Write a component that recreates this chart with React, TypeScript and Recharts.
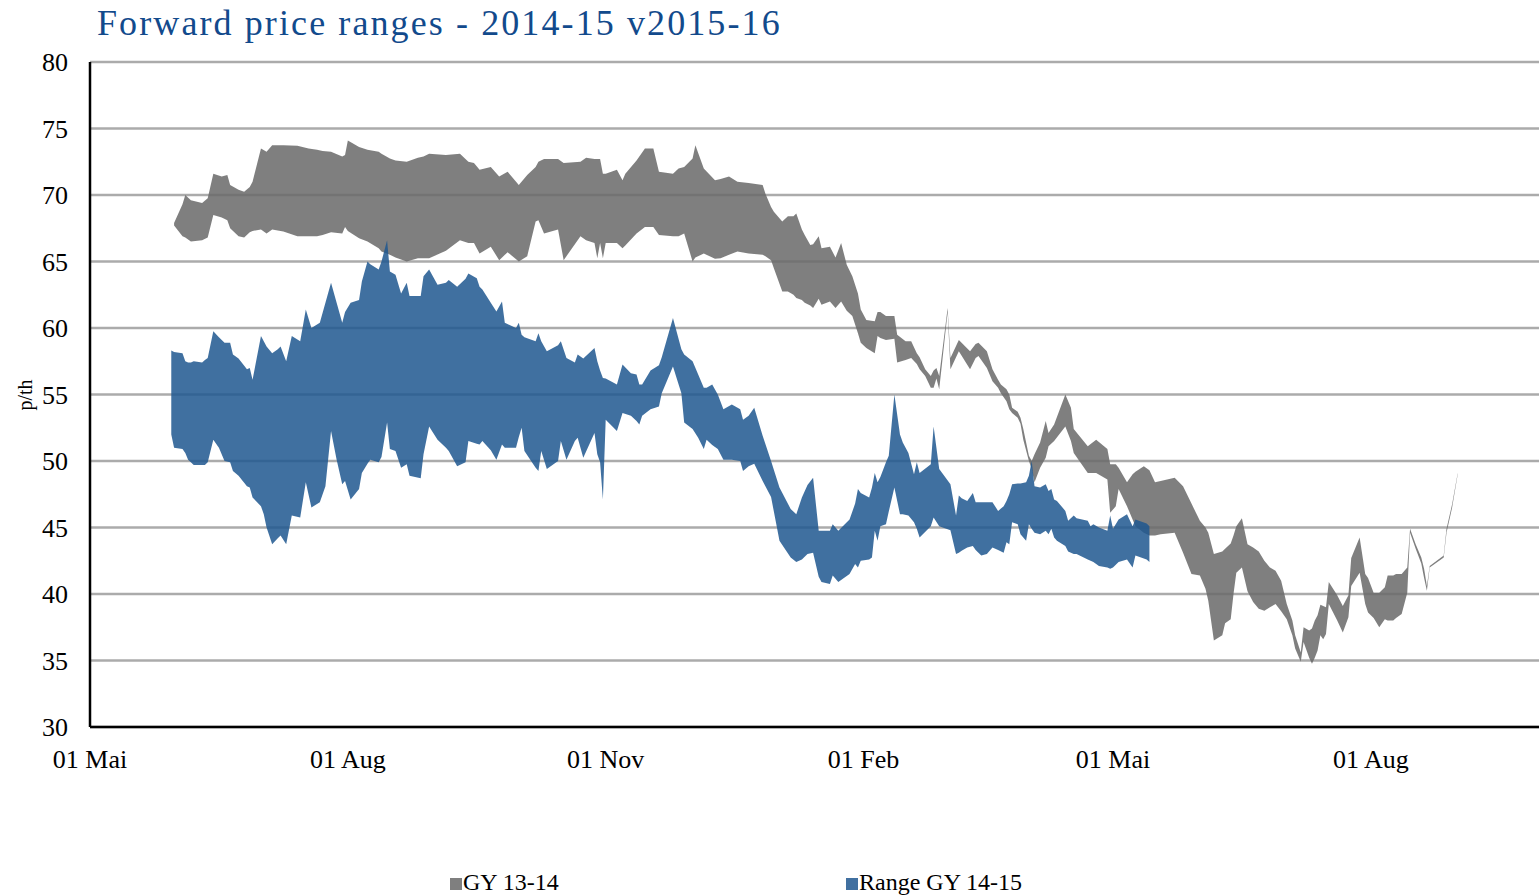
import { ComposedChart, Area, XAxis, YAxis, CartesianGrid, Label } from 'recharts';

// x values are days counted from 01 May 2014
const tickDays = [0, 92, 184, 276, 365, 457];
const tickLabels = ['01 Mai', '01 Aug', '01 Nov', '01 Feb', '01 Mai', '01 Aug'];
const yTicks = [30, 35, 40, 45, 50, 55, 60, 65, 70, 75, 80];

// GY 13-14 (grey band)
const gyDays = [
  30, 33, 34, 36, 40, 42, 44, 47, 49, 50, 53, 55, 57, 58, 61, 63, 65, 69, 74, 78,
  81, 83, 86, 90, 91, 92, 96, 99, 103, 104, 107, 109, 113, 117, 119, 121, 127, 132, 135, 137,
  139, 143, 146, 149, 153, 156, 159, 160, 162, 167, 169, 175, 177, 180, 181, 182, 183, 184, 188, 190,
  191, 195, 198, 201, 203, 208, 210, 212, 215, 216, 219, 223, 225, 228, 231, 235, 240, 241, 243, 244,
  247, 249, 251, 252, 254, 255, 257, 258, 260, 261, 264, 266, 268, 270, 272, 274, 275, 277, 280, 281,
  282, 284, 287, 288, 291, 293, 295, 296, 298, 300, 301, 302, 303, 306, 307, 310, 314, 316, 317, 320,
  322, 324, 325, 327, 328, 329, 331, 332, 333, 335, 336, 337, 339, 341, 342, 344, 348, 350, 351, 356,
  359, 363, 364, 366, 367, 370, 372, 373, 376, 378, 380, 382, 387, 390, 393, 396, 398, 399, 401, 404,
  405, 407, 408, 409, 411, 413, 415, 417, 419, 421, 423, 425, 427, 429, 430, 432, 433, 435, 436, 437,
  438, 439, 440, 441, 442, 445, 447, 449, 450, 453, 455, 456, 458, 460, 462, 463, 465, 466, 468, 470,
  471, 473, 475, 476, 477, 478, 483, 484, 486, 488,
];
const gyLow = [
  67.7, 66.9, 66.8, 66.5, 66.6, 66.8, 68.5, 68.3, 68.1, 67.5, 66.9, 66.8, 67.2, 67.3, 67.4, 67.1, 67.4, 67.25, 66.9, 66.9,
  66.9, 67.0, 67.2, 67.1, 67.6, 67.3, 66.75, 66.5, 66.0, 65.75, 65.5, 65.3, 65.0, 65.25, 65.25, 65.25, 65.8, 66.6, 66.4, 66.4,
  65.6, 66.1, 65.1, 65.7, 65.0, 65.4, 68.0, 68.1, 67.1, 67.4, 65.1, 66.9, 66.6, 66.4, 65.25, 66.4, 65.25, 66.4, 66.4, 66.0,
  66.2, 67.1, 67.6, 67.6, 67.0, 66.9, 66.9, 67.1, 65.0, 65.3, 65.6, 65.2, 65.25, 65.5, 65.75, 65.6, 65.5, 65.4, 65.1, 64.5,
  62.75, 62.75, 62.5, 62.25, 62.1, 61.9, 61.7, 61.5, 62.2, 61.75, 62.0, 61.5, 62.0, 61.3, 60.9, 59.6, 58.9, 58.5, 58.1, 59.4,
  59.25, 59.1, 59.2, 57.4, 57.6, 57.75, 57.3, 56.9, 56.4, 55.5, 55.5, 56.2, 55.4, 61.2, 56.9, 58.25, 56.9, 57.75, 57.9, 57.0,
  56.0, 55.5, 55.1, 54.5, 53.9, 53.6, 53.25, 52.8, 51.6, 50.0, 49.4, 48.4, 49.5, 50.25, 51.1, 51.5, 52.6, 51.5, 50.6, 49.1,
  49.1, 48.6, 46.1, 46.6, 47.9, 46.6, 45.6, 45.1, 44.6, 44.4, 44.4, 44.5, 44.6, 43.1, 41.5, 41.4, 40.4, 39.5, 36.5, 36.9,
  37.8, 38.1, 40.0, 41.6, 42.0, 40.2, 39.4, 38.9, 38.75, 39.0, 39.25, 38.7, 38.1, 36.9, 35.9, 34.9, 36.4, 35.2, 34.75, 35.2,
  35.75, 36.9, 36.6, 37.0, 39.25, 38.0, 37.1, 38.25, 40.6, 41.6, 39.25, 38.6, 38.2, 37.5, 38.1, 38.0, 38.0, 38.2, 38.5, 40.1,
  44.6, 43.4, 42.3, 41.2, 40.25, 42.0, 42.75, 44.6, 46.5, 49.0,
];
const gyHigh = [
  67.9, 69.3, 70.0, 69.6, 69.4, 69.75, 71.6, 71.4, 71.5, 70.75, 70.4, 70.25, 70.6, 71.0, 73.5, 73.25, 73.75, 73.75, 73.7, 73.5,
  73.4, 73.3, 73.25, 72.9, 73.0, 74.1, 73.6, 73.4, 73.25, 73.1, 72.75, 72.6, 72.5, 72.8, 72.9, 73.1, 73.0, 73.1, 72.5, 72.4,
  71.9, 72.1, 71.4, 71.75, 70.75, 71.5, 72.1, 72.5, 72.7, 72.7, 72.4, 72.5, 72.8, 72.7, 72.7, 72.7, 71.6, 71.6, 71.9, 71.1,
  71.6, 72.6, 73.5, 73.5, 71.75, 71.6, 72.0, 72.1, 72.75, 73.75, 72.0, 71.1, 71.2, 71.4, 71.0, 70.9, 70.75, 70.1, 69.1, 68.75,
  68.0, 68.4, 68.4, 68.6, 67.4, 67.0, 66.25, 66.3, 66.9, 66.0, 66.1, 65.3, 66.4, 64.75, 63.9, 62.6, 61.4, 60.6, 60.5, 61.2,
  61.2, 60.9, 60.9, 59.5, 59.0, 59.0, 58.1, 57.8, 56.9, 56.4, 56.8, 57.0, 56.4, 61.5, 57.75, 59.1, 58.25, 58.8, 58.9, 58.25,
  56.9, 56.1, 55.75, 55.4, 55.0, 54.0, 53.7, 53.25, 52.4, 50.4, 50.0, 50.5, 51.4, 53.0, 52.1, 52.75, 55.0, 54.0, 52.4, 51.1,
  51.6, 50.9, 49.75, 49.75, 49.5, 48.4, 49.0, 49.2, 49.6, 49.3, 48.4, 48.5, 48.75, 48.1, 46.8, 45.5, 45.0, 44.6, 43.0, 43.2,
  43.4, 43.8, 44.4, 45.1, 45.7, 43.75, 43.5, 43.2, 42.5, 42.0, 41.75, 41.0, 39.25, 38.0, 36.9, 35.6, 37.5, 37.25, 37.4, 38.0,
  38.4, 39.2, 39.1, 39.0, 40.9, 39.9, 39.1, 39.9, 42.7, 44.25, 41.5, 41.2, 40.1, 40.1, 40.5, 41.4, 41.4, 41.5, 41.5, 42.0,
  44.9, 43.75, 42.75, 41.9, 40.6, 42.1, 42.9, 44.9, 46.75, 49.1,
];

// Range GY 14-15 (blue band)
const rgDays = [
  29, 30, 33, 34, 35, 36, 37, 40, 41, 42, 44, 46, 48, 50, 51, 53, 56, 57, 58, 61,
  62, 63, 65, 67, 68, 70, 72, 75, 77, 79, 82, 84, 86, 88, 90, 91, 93, 96, 97, 99,
  100, 103, 104, 106, 107, 109, 111, 113, 114, 118, 119, 121, 124, 127, 128, 131, 134, 135, 138, 139,
  140, 143, 145, 147, 148, 152, 153, 154, 155, 159, 160, 161, 163, 167, 168, 170, 173, 174, 176, 180,
  181, 182, 183, 184, 188, 190, 193, 195, 196, 197, 200, 203, 204, 208, 211, 212, 215, 217, 219, 220,
  222, 224, 226, 229, 232, 233, 235, 237, 240, 243, 246, 250, 252, 254, 256, 258, 260, 261, 264, 265,
  267, 271, 273, 274, 275, 278, 279, 280, 281, 282, 284, 285, 287, 289, 290, 292, 294, 295, 296, 300,
  301, 303, 307, 309, 310, 311, 313, 315, 316, 318, 320, 322, 324, 326, 327, 328, 329, 331, 332, 334,
  335, 336, 337, 339, 341, 342, 343, 344, 345, 348, 349, 351, 352, 356, 357, 358, 360, 363, 364, 365,
  367, 370, 372, 373, 377, 378,
];
const rgLow = [
  52.0, 51.0, 50.9, 50.6, 50.1, 49.9, 49.7, 49.7, 49.7, 49.9, 51.6, 51.0, 50.0, 49.9, 49.25, 48.9, 48.1, 48.0, 47.25, 46.6,
  46.0, 45.0, 43.75, 44.2, 44.4, 43.75, 45.9, 45.75, 48.4, 46.5, 46.9, 48.1, 52.25, 50.1, 48.25, 48.5, 47.1, 47.9, 49.1, 49.8,
  50.1, 49.9, 50.3, 52.9, 50.9, 50.75, 49.5, 49.75, 48.9, 48.7, 50.5, 52.6, 51.6, 51.0, 50.75, 49.6, 49.9, 51.5, 51.3, 51.25,
  51.5, 50.8, 50.1, 51.25, 51.0, 51.0, 51.8, 52.5, 50.75, 49.5, 49.25, 50.75, 49.4, 50.0, 51.5, 50.1, 51.5, 51.75, 50.25, 52.1,
  50.5, 49.9, 47.1, 53.1, 52.25, 53.6, 53.4, 53.0, 52.75, 53.4, 53.9, 54.1, 55.1, 57.1, 55.1, 52.9, 52.4, 51.75, 50.9, 51.6,
  51.2, 50.9, 50.1, 50.1, 50.0, 49.25, 49.6, 49.8, 48.5, 47.3, 44.0, 42.75, 42.4, 42.6, 43.0, 43.1, 41.3, 40.9, 40.75, 41.4,
  40.9, 41.5, 42.25, 42.0, 42.5, 42.6, 42.75, 44.75, 44.0, 45.1, 45.25, 46.2, 48.0, 46.0, 46.0, 45.9, 45.4, 44.9, 44.25, 45.1,
  45.75, 45.1, 44.8, 43.0, 43.1, 43.25, 43.5, 43.6, 43.3, 42.9, 43.0, 43.5, 43.3, 43.1, 43.9, 43.75, 45.4, 45.25, 44.5, 44.0,
  45.25, 44.9, 44.6, 44.5, 44.75, 44.5, 44.9, 44.25, 44.0, 43.6, 43.2, 43.0, 43.0, 42.6, 42.5, 42.4, 42.1, 42.0, 41.9, 42.0,
  42.4, 42.6, 42.0, 42.9, 42.6, 42.4,
];
const rgHigh = [
  58.3, 58.2, 58.1, 57.5, 57.4, 57.4, 57.5, 57.4, 57.6, 57.75, 59.75, 59.3, 58.9, 58.9, 58.0, 57.7, 56.9, 57.0, 56.1, 59.4,
  59.0, 58.6, 58.1, 58.4, 58.6, 57.5, 59.4, 59.0, 61.4, 60.0, 60.4, 61.9, 63.4, 61.9, 60.4, 61.2, 61.9, 62.1, 63.5, 65.0,
  64.8, 64.4, 65.0, 66.6, 64.25, 64.0, 62.6, 63.4, 62.4, 62.4, 63.9, 64.4, 63.25, 63.4, 63.6, 63.1, 63.7, 64.1, 63.75, 63.1,
  62.9, 61.9, 61.25, 62.0, 60.4, 60.0, 60.4, 59.5, 59.3, 59.0, 59.6, 59.0, 58.25, 58.7, 59.0, 57.75, 57.4, 58.0, 57.7, 58.5,
  57.5, 56.8, 56.25, 56.2, 55.75, 57.25, 56.6, 56.5, 55.75, 55.75, 56.8, 57.2, 57.8, 60.75, 58.4, 58.0, 57.5, 56.5, 55.5, 55.5,
  55.75, 55.0, 53.9, 54.25, 53.9, 53.1, 53.4, 54.0, 51.9, 50.0, 48.0, 46.4, 46.0, 47.25, 48.2, 48.75, 44.75, 44.75, 44.75, 45.25,
  44.75, 45.6, 46.8, 47.9, 47.6, 47.25, 48.0, 49.1, 48.4, 48.8, 49.9, 50.4, 55.0, 52.0, 51.4, 50.6, 49.0, 49.9, 49.1, 49.75,
  52.6, 49.4, 48.25, 45.9, 47.4, 47.2, 47.0, 47.6, 46.9, 46.9, 46.9, 46.9, 46.25, 46.6, 47.0, 47.5, 48.25, 48.3, 48.3, 48.4,
  48.9, 50.0, 48.1, 48.0, 48.25, 47.75, 47.9, 47.1, 47.0, 46.25, 45.5, 45.9, 45.7, 45.5, 45.1, 45.25, 45.0, 44.75, 45.9, 44.9,
  45.6, 46.0, 45.1, 45.6, 45.3, 45.1,
];

const gyData = gyDays.map((day, i) => ({ day, band: [gyLow[i], gyHigh[i]] }));
const rgData = rgDays.map((day, i) => ({ day, band: [rgLow[i], rgHigh[i]] }));

const FONT = '"Liberation Serif", "DejaVu Serif", serif';
const PLOT_TOP = 62;
const PLOT_BOTTOM = 727;

const XTick = ({ x, payload }: any) => {
  const idx = tickDays.indexOf(payload.value);
  return (
    <text x={x} y={PLOT_BOTTOM + 41} textAnchor="middle" fontFamily={FONT} fontSize={26} fill="#000">
      {tickLabels[idx]}
    </text>
  );
};

const YTick = ({ y, payload }: any) => (
  <text x={68} y={y} dy="0.35em" textAnchor="end" fontFamily={FONT} fontSize={26} fill="#000">
    {payload.value}
  </text>
);

export default function App() {
  return (
    <div style={{ position: 'relative', width: 1539, height: 896, overflow: 'hidden', background: '#fff' }}>
      <style>{'body{margin:0}'}</style>
      <div
        style={{
          position: 'absolute',
          left: 97,
          top: 2,
          fontFamily: FONT,
          fontSize: 36,
          color: '#124a8c',
          whiteSpace: 'nowrap',
          letterSpacing: 2.1,
        }}
      >
        Forward price ranges - 2014-15 v2015-16
      </div>

      <ComposedChart width={1539} height={896} margin={{ top: PLOT_TOP, right: 0, bottom: 109, left: 0 }}>
        <CartesianGrid horizontal vertical={false} stroke="#ababab" strokeWidth={2.5} />
        <XAxis
          type="number"
          dataKey="day"
          domain={[0, 517]}
          allowDataOverflow
          ticks={tickDays}
          interval={0}
          tickLine={false}
          axisLine={{ stroke: '#000', strokeWidth: 2.5 }}
          tick={<XTick />}
          height={60}
        />
        <YAxis
          type="number"
          domain={[30, 80]}
          ticks={yTicks}
          interval={0}
          width={90}
          tickLine={false}
          axisLine={{ stroke: '#000', strokeWidth: 2.5 }}
          tick={<YTick />}
        >
          <Label
            content={() => (
              <text
                x={25}
                y={395}
                transform="rotate(-90 25 395)"
                textAnchor="middle"
                dominantBaseline="central"
                fontFamily={FONT}
                fontSize={20}
                fill="#000"
              >
                p/th
              </text>
            )}
          />
        </YAxis>
        <Area
          data={gyData}
          dataKey="band"
          type="linear"
          fill="#686868"
          fillOpacity={0.85}
          stroke="none"
          dot={false}
          activeDot={false}
          isAnimationActive={false}
        />
        <Area
          data={rgData}
          dataKey="band"
          type="linear"
          fill="#1f578f"
          fillOpacity={0.85}
          stroke="none"
          dot={false}
          activeDot={false}
          isAnimationActive={false}
        />
      </ComposedChart>

      <div style={{ position: 'absolute', left: 450, top: 869, fontFamily: FONT, fontSize: 24, whiteSpace: 'nowrap' }}>
        <span style={{ display: 'inline-block', width: 12, height: 12, background: '#7f7f7f', marginRight: 1 }} />
        GY 13-14
      </div>
      <div style={{ position: 'absolute', left: 846, top: 869, fontFamily: FONT, fontSize: 24, whiteSpace: 'nowrap' }}>
        <span style={{ display: 'inline-block', width: 12, height: 12, background: '#4170a0', marginRight: 1 }} />
        Range GY 14-15
      </div>
    </div>
  );
}
